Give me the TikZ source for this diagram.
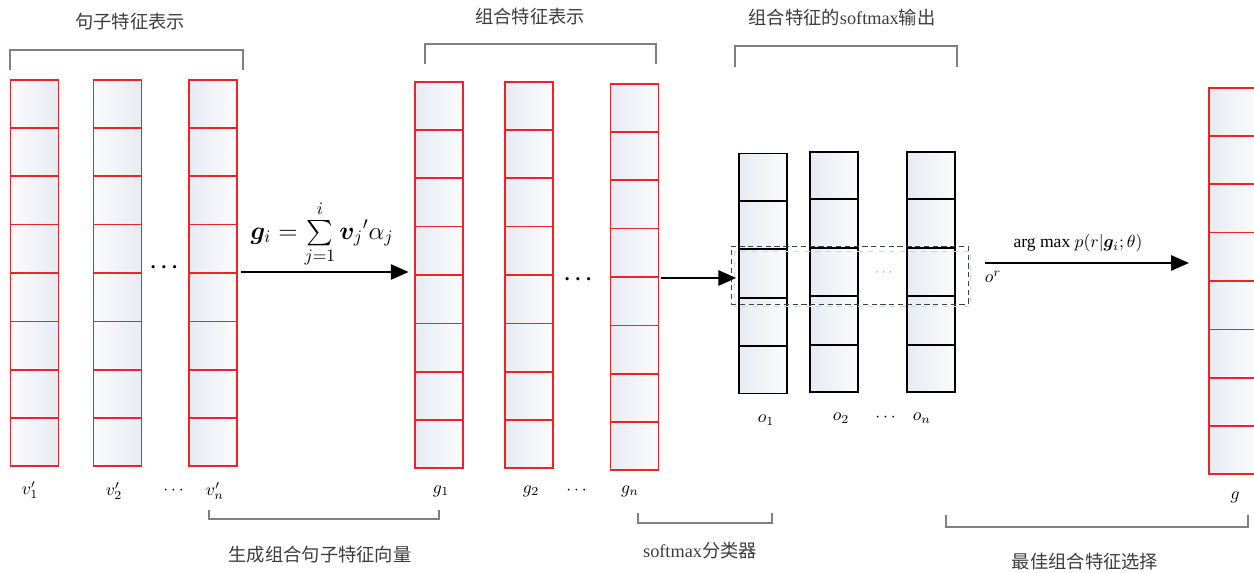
\documentclass[tikz,border=0pt]{standalone}
\usepackage{fontspec}
\usepackage{amsmath}
\usepackage{bm}
\setmainfont{Liberation Serif}
\newfontfamily\cjk{Noto Sans CJK SC}
\usetikzlibrary{arrows.meta,positioning,calc}
\definecolor{colred}  {RGB}{236, 36, 40}
\definecolor{cellband}{RGB}{231,235,242}
\definecolor{cellwht} {RGB}{251,251,252}
\definecolor{brgray}  {RGB}{128,128,128}
\definecolor{txtgray} {RGB}{ 60, 60, 60}
\definecolor{dotblue} {RGB}{110,145,200}
\tikzset{
  redcol/.style={draw=colred,line width=1.1pt,inner sep=0pt,
                 minimum width=0.96cm,minimum height=7.72cm,
                 left color=cellband,right color=cellwht},
  redcolr/.style={redcol,left color=cellwht,right color=cellband},
  blkcol/.style={redcol,draw=black,minimum height=4.8cm},
  redsep/.style={draw=colred,line width=1.1pt},
  blksep/.style={draw=black,line width=1.1pt},
  brk/.style={draw=brgray,line width=1.6pt},
  arr/.style={-{Triangle[length=0.36cm,width=0.3cm]},line width=1.6pt},
  selbox/.style={draw=black!75,dash pattern=on 3pt off 2pt,line width=0.5pt},
  cjklbl/.style={font=\cjk\fontsize{10.4}{12}\selectfont,text=txtgray},
  mlbl/.style={font=\fontsize{10}{12}\selectfont},
}

\begin{document}
\begin{tikzpicture}[x=0.02cm,y=-0.02cm]
  \useasboundingbox (0,0) rectangle (1254,573);

  % sentence features
  \node[redcolr](v1) at (34.5,273) {};
  \node[redcolr](v2) at (117.5,273) {};
  \node[redcol](vn)  at (213,273) {};
  % combined features
  \node[redcol](g1) at (439,275) {};
  \node[redcol](g2) at (529,275) {};
  \node[redcol](gn) at (634.5,277) {};
  \node[redcol](gbest) at (1233,281) {};
  % softmax outputs
  \node[blkcol](o1) at (763,273.5) {};
  \node[blkcol](o2) at (834,272) {};
  \node[blkcol](on) at (931,272) {};

  \foreach \c in {v1,v2,vn,g1,g2,gn,gbest}
    \foreach \k in {1,...,7}
      \draw[redsep] ($(\c.north west)!\k/8!(\c.south west)$) -- ($(\c.north east)!\k/8!(\c.south east)$);
  \foreach \c in {o1,o2,on}
    \foreach \k in {1,...,4}
      \draw[blksep] ($(\c.north west)!\k/5!(\c.south west)$) -- ($(\c.north east)!\k/5!(\c.south east)$);

  % selected row
  \draw[dotblue!35,dashed,line width=0.5pt] (734,251) rectangle (970,306);
  \node[selbox,minimum width=4.74cm,minimum height=1.16cm](sel) at (849.5,275) {};

  % dots
  \node(dv) at (166,268) {\large$\bm{\cdots}$};
  \node(dg) at (580,280) {\large$\bm{\cdots}$};
  \node[text=dotblue,font=\scriptsize](dsel) at (885,273) {$\cdots$};

  % arrows
  \draw[arr,shorten <=2pt,shorten >=3pt] (vn.east |- 0,272) -- (g1.west |- 0,272);
  \draw[arr,shorten <=1pt,shorten >=1pt] (gn.east |- 0,278) -- (o1.west |- 0,278);
  \coordinate (os) at (985,263);
  \draw[arr,shorten >=10.8pt] (os) -- (os -| gbest.west);

  \node(form) at (322,234) {\Large$\bm{g}_i=\sum\limits_{j=1}^{i}\bm{v}_j{}'\alpha_j$};
  \node(amax) at (1078,243) {arg max $p(r|\bm{g}_i;\theta)$};
  \node[mlbl](or) at (993,277) {$o^r$};

  % column labels
  \node[mlbl](lv1) at (30,490) {$v'_1$};
  \node[mlbl](lv2) at (114,491) {$v'_2$};
  \node[mlbl](ldv) at (175,491) {$\cdots$};
  \node[mlbl](lvn) at (215,491) {$v'_n$};
  \node[mlbl](lg1) at (441,491) {$g_1$};
  \node[mlbl](lg2) at (531,491) {$g_2$};
  \node[mlbl](ldg) at (578,491) {$\cdots$};
  \node[mlbl](lgn) at (630,491) {$g_n$};
  \node[mlbl](lg)  at (1235,497) {$g$};
  \node[mlbl](lo1) at (766,420) {$o_1$};
  \node[mlbl](lo2) at (841,418) {$o_2$};
  \node[mlbl](ldo) at (887,418) {$\cdots$};
  \node[mlbl](lon) at (922,418) {$o_n$};

  % brackets
  \draw[brk] (10,70) |- (243,50) -- (243,70);
  \draw[brk] (425,64) |- (656,44) -- (656,64);
  \draw[brk] (735,67) |- (957,46) -- (957,67);
  \draw[brk] (209,510) |- (439,519) -- (439,510);
  \draw[brk] (638,513) |- (772,523) -- (772,513);
  \draw[brk] (946,515) |- (1248,527) -- (1248,515);

  \node[cjklbl](t1) at (130,22) {句子特征表示};
  \node[cjklbl](t2) at (530,17) {组合特征表示};
  \node[cjklbl](t3) at (842,18) {组合特征的{\rmfamily softmax}输出};
  \node[cjklbl](b1) at (320,555) {生成组合句子特征向量};
  \node[cjklbl](b2) at (700,551) {{\rmfamily softmax}分类器};
  \node[cjklbl](b3) at (1085,562) {最佳组合特征选择};
\end{tikzpicture}
\end{document}
